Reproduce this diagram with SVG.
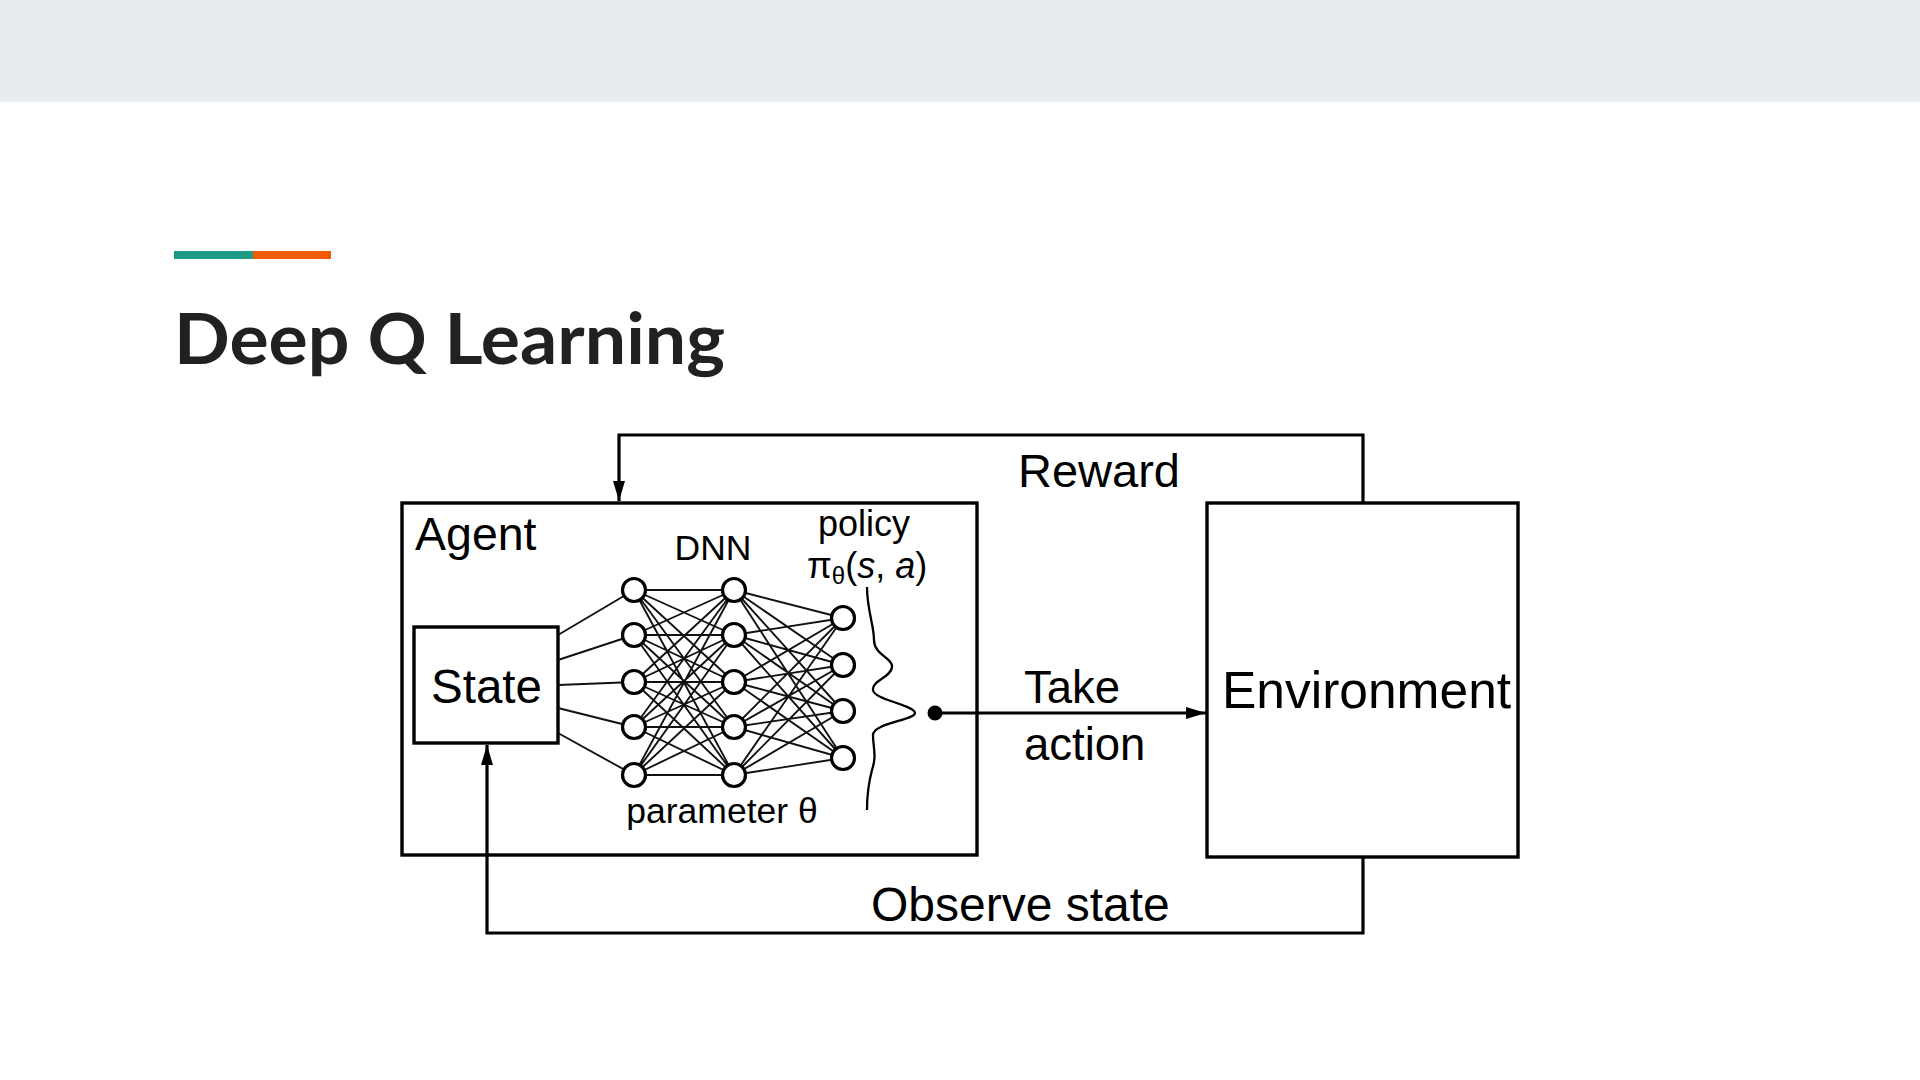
<svg xmlns="http://www.w3.org/2000/svg" width="1920" height="1080" viewBox="0 0 1920 1080">
  <defs>
    <style>
      .box { fill: none; stroke: #000; stroke-width: 3.4; }
      .conn { fill: none; stroke: #000; stroke-width: 3.2; }
      .net { fill: none; stroke: #111; stroke-width: 1.9; }
      .node { fill: #fff; stroke: #000; stroke-width: 3.2; }
      .lbl { font-family: "Liberation Sans", Arial, sans-serif; fill: #000; }
      .title { font-family: Lato, "Open Sans", sans-serif; font-weight: 700; fill: #212121; }
    </style>
    <marker id="arr" viewBox="0 0 20 12" refX="20" refY="6" markerWidth="20" markerHeight="12" markerUnits="userSpaceOnUse" orient="auto">
      <path d="M0 0L20 6L0 12z" fill="#000"/>
    </marker>
  </defs>

  <rect x="0" y="0" width="1920" height="102" fill="#e8ecee"/>
  <rect x="174" y="251" width="79" height="8" fill="#1a9a87"/>
  <rect x="253" y="251" width="78" height="8" fill="#f05a00"/>
  <text class="title" x="174" y="364" font-size="71" textLength="551" lengthAdjust="spacingAndGlyphs">Deep Q Learning</text>

  <g id="connectors">
    <path class="conn" d="M1363 503V435H619V501" marker-end="url(#arr)"/>
    <path class="conn" d="M1363 857V933H487V745" marker-end="url(#arr)"/>
    <path class="conn" d="M935 713H1206" marker-end="url(#arr)"/>
    <circle cx="935" cy="713" r="7.5" fill="#000"/>
  </g>

  <g id="agent">
    <rect class="box" x="402" y="503" width="575" height="352"/>
    <text class="lbl" x="415" y="550" font-size="46.5">Agent</text>
  </g>

  <g id="environment">
    <rect class="box" x="1207" y="503" width="311" height="354"/>
    <text class="lbl" x="1222" y="708" font-size="51.5">Environment</text>
  </g>

  <g id="state">
    <rect class="box" x="414" y="627" width="144" height="116"/>
    <text class="lbl" x="431" y="703" font-size="47.5">State</text>
  </g>

  <g id="dnn">
    <path class="net" d="M558 635L634 590M558 660L634 635M558 685L634 682M558 708L634 727M558 733L634 775"/>
    <path class="net" d="M634 590L734 590M634 590L734 635M634 590L734 682M634 590L734 727M634 590L734 775
      M634 635L734 590M634 635L734 635M634 635L734 682M634 635L734 727M634 635L734 775
      M634 682L734 590M634 682L734 635M634 682L734 682M634 682L734 727M634 682L734 775
      M634 727L734 590M634 727L734 635M634 727L734 682M634 727L734 727M634 727L734 775
      M634 775L734 590M634 775L734 635M634 775L734 682M634 775L734 727M634 775L734 775"/>
    <path class="net" d="M734 590L843 618M734 590L843 665M734 590L843 711M734 590L843 758
      M734 635L843 618M734 635L843 665M734 635L843 711M734 635L843 758
      M734 682L843 618M734 682L843 665M734 682L843 711M734 682L843 758
      M734 727L843 618M734 727L843 665M734 727L843 711M734 727L843 758
      M734 775L843 618M734 775L843 665M734 775L843 711M734 775L843 758"/>
    <circle class="node" cx="634" cy="590" r="11.5"/>
    <circle class="node" cx="634" cy="635" r="11.5"/>
    <circle class="node" cx="634" cy="682" r="11.5"/>
    <circle class="node" cx="634" cy="727" r="11.5"/>
    <circle class="node" cx="634" cy="775" r="11.5"/>
    <circle class="node" cx="734" cy="590" r="11.5"/>
    <circle class="node" cx="734" cy="635" r="11.5"/>
    <circle class="node" cx="734" cy="682" r="11.5"/>
    <circle class="node" cx="734" cy="727" r="11.5"/>
    <circle class="node" cx="734" cy="775" r="11.5"/>
    <circle class="node" cx="843" cy="618" r="11.5"/>
    <circle class="node" cx="843" cy="665" r="11.5"/>
    <circle class="node" cx="843" cy="711" r="11.5"/>
    <circle class="node" cx="843" cy="758" r="11.5"/>
    <text class="lbl" x="713" y="560" font-size="35.5" text-anchor="middle">DNN</text>
    <text class="lbl" x="722" y="823" font-size="35.5" text-anchor="middle">parameter θ</text>
  </g>

  <g id="policy">
    <path fill="none" stroke="#000" stroke-width="2.3" d="M867 587C867 610 874 625 874 640C874 655 893 658 892 667C891 678 872 680 873 690C874 700 915 705 915 713C915 720 873 723 873 735C873 748 877 755 872 770C868 785 867 795 867 810"/>
    <text class="lbl" x="864" y="536" font-size="36" text-anchor="middle">policy</text>
    <text class="lbl" x="807" y="578" font-size="36">π<tspan font-size="24" dy="6">θ</tspan><tspan dy="-6">(</tspan><tspan font-style="italic">s</tspan>, <tspan font-style="italic">a</tspan>)</text>
  </g>

  <g id="labels">
    <text class="lbl" x="1018" y="487" font-size="47">Reward</text>
    <text class="lbl" x="1024" y="703" font-size="45.5">Take</text>
    <text class="lbl" x="1024" y="760" font-size="45.5">action</text>
    <text class="lbl" x="871" y="921" font-size="48">Observe state</text>
  </g>
</svg>
